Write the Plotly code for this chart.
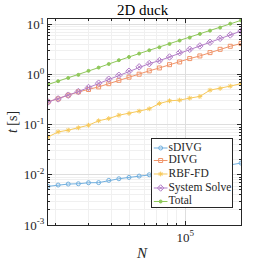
import plotly.graph_objects as go

N = [18200, 20640, 23400, 26540, 30100, 34130, 38700, 43890, 49770, 56440,
     64000, 72580, 82300, 93330, 105800, 120000, 136100, 154300, 175000, 200000]

sDIVG = [0.0059, 0.00627, 0.00656, 0.00665, 0.00697, 0.0070, 0.00776, 0.00837, 0.0089, 0.00946,
         0.01005, 0.0105, 0.011, 0.0118, 0.0125, 0.013, 0.0138, 0.0148, 0.0158, 0.0172]
DIVG = [0.286, 0.328, 0.389, 0.453, 0.505, 0.569, 0.66, 0.77, 0.89, 1.02,
        1.19, 1.36, 1.58, 1.79, 2.09, 2.36, 2.75, 3.2, 3.68, 4.17]
RBFFD = [0.057, 0.072, 0.078, 0.087, 0.098, 0.12, 0.133, 0.155, 0.168, 0.187,
         0.208, 0.265, 0.30, 0.31, 0.34, 0.367, 0.49, 0.53, 0.59, 0.66]
SysSolve = [0.286, 0.328, 0.389, 0.46, 0.553, 0.675, 0.81, 0.97, 1.17, 1.43,
            1.66, 1.9, 2.25, 2.75, 3.2, 3.73, 4.42, 5.3, 6.2, 7.4]
Total = [0.635, 0.74, 0.86, 0.99, 1.19, 1.38, 1.63, 1.94, 2.25, 2.63,
         3.06, 3.52, 4.1, 4.78, 5.48, 6.5, 7.55, 8.67, 10.4, 12.1]

names = ["sDIVG", "DIVG", "RBF-FD", "System Solve", "Total"]
values = [sDIVG, DIVG, RBFFD, SysSolve, Total]
colors = ["#72b0df", "#f0946a", "#f7c95a", "#b47fc8", "#8fc85a"]
symbols = ["circle-open", "square-open", "asterisk-open", "diamond-x-open", "circle"]
msizes = [4, 4, 4, 5, 3]

x_tickvals = [1e5]
x_ticktext = ["10<sup>5</sup>"]
y_tickvals = [1e-3, 1e-2, 1e-1, 1e0, 1e1]
y_ticktext = ["10<sup>-3</sup>", "10<sup>-2</sup>", "10<sup>-1</sup>", "10<sup>0</sup>", "10<sup>1</sup>"]

x_minor = [k * 1e4 for k in range(2, 10)] + [2e5]
y_minor = [k * 10.0 ** e for e in range(-3, 1) for k in range(2, 10)]

fig = go.Figure()
for name, vals, col, sym, sz in zip(names, values, colors, symbols, msizes):
    fig.add_trace(go.Scatter(
        x=N, y=vals, name=name, mode="lines+markers", showlegend=False,
        line=dict(color=col, width=1),
        marker=dict(symbol=sym, size=sz, color=col, line=dict(color=col, width=1)),
    ))

# custom legend drawn in an inset subplot (box-local coordinates)
row_y = [9, 21.5, 35, 49, 62.5]
for i, (name, col, sym, sz) in enumerate(zip(names, colors, symbols, msizes)):
    fig.add_trace(go.Scatter(
        x=[2, 9, 16], y=[row_y[i]] * 3, mode="lines", showlegend=False,
        line=dict(color=col, width=1), xaxis="x2", yaxis="y2", hoverinfo="skip",
    ))
    fig.add_trace(go.Scatter(
        x=[9], y=[row_y[i]], mode="markers", showlegend=False,
        marker=dict(symbol=sym, size=sz, color=col, line=dict(color=col, width=1)),
        xaxis="x2", yaxis="y2", hoverinfo="skip",
    ))
fig.add_trace(go.Scatter(
    x=[17] * 5, y=row_y, mode="text", text=names, textposition="middle right",
    textfont=dict(family="Liberation Serif", size=11.5, color="#262626"),
    cliponaxis=False,
    showlegend=False, xaxis="x2", yaxis="y2", hoverinfo="skip",
))

font_family = "Liberation Serif"
axis_common = dict(
    type="log", showline=True, linecolor="#262626", linewidth=1, mirror="ticks",
    ticks="inside", ticklen=4, tickcolor="#262626",
    showgrid=True, gridcolor="#dedede", gridwidth=1, zeroline=False,
    tickfont=dict(family=font_family, size=13, color="#262626"),
)

fig.update_layout(
    xaxis=dict(
        **axis_common,
        range=[4.2601, 5.30103], domain=[0, 1],
        tickmode="array", tickvals=x_tickvals, ticktext=x_ticktext,
        minor=dict(tickvals=x_minor, showgrid=True, gridcolor="#f0f0f0", ticks="inside",
                   ticklen=2, tickcolor="#262626"),
    ),
    yaxis=dict(
        **axis_common,
        range=[-3, 1.11], domain=[0, 1],
        tickmode="array", tickvals=y_tickvals, ticktext=y_ticktext,
        minor=dict(tickvals=y_minor, showgrid=True, gridcolor="#f0f0f0", ticks="inside",
                   ticklen=2, tickcolor="#262626"),
        title=dict(text="<i>t</i> [s]", font=dict(family=font_family, size=14, color="#262626"), standoff=2),
    ),
    xaxis2=dict(domain=[0.538, 0.954], range=[0, 82], anchor="y2",
                showgrid=False, zeroline=False, showticklabels=False, ticks="",
                showline=True, mirror=True, linecolor="#262626", linewidth=1, fixedrange=True),
    yaxis2=dict(domain=[0.0874, 0.4175], range=[68, 0], anchor="x2",
                showgrid=False, zeroline=False, showticklabels=False, ticks="",
                showline=True, mirror=True, linecolor="#262626", linewidth=1, fixedrange=True),
    width=266, height=266,
    margin=dict(l=44, r=25, t=19, b=41),
    paper_bgcolor="white", plot_bgcolor="white",
    title=dict(text="2D duck", x=0.536, xanchor="center", y=1 - 10 / 266, yanchor="middle",
               yref="container", font=dict(family=font_family, size=15, color="black")),
    annotations=[dict(text="<i>N</i>", xref="paper", yref="paper", x=0.485, y=-0.136,
                      xanchor="center", yanchor="middle", showarrow=False,
                      font=dict(family=font_family, size=15, color="#262626"))],
    showlegend=False,
)

fig.write_html("out.html", config={"displayModeBar": False, "staticPlot": True},
               post_script="document.body.style.margin='0';document.body.style.padding='0';")
